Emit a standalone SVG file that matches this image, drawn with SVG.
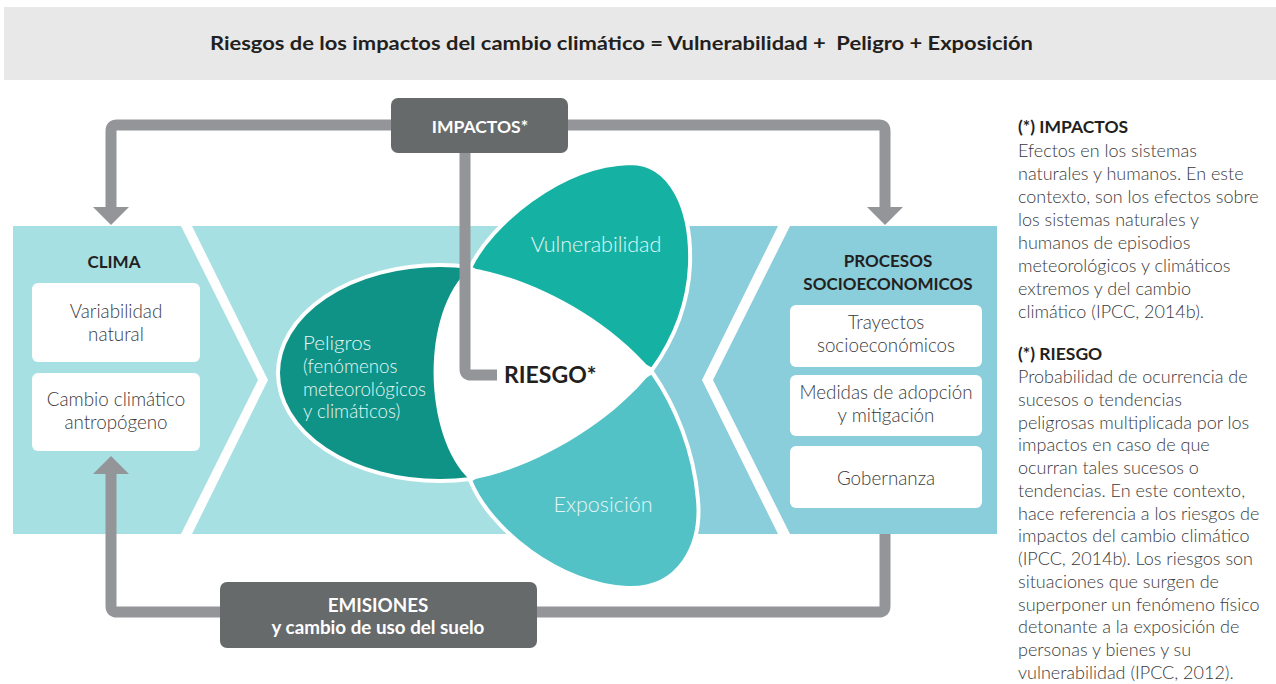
<svg xmlns="http://www.w3.org/2000/svg" width="1276" height="684" viewBox="0 0 1276 684">
<style>
.lt{font-family:Lato,"Liberation Sans",sans-serif;font-weight:300;}
.bd{font-family:Lato,"Liberation Sans",sans-serif;font-weight:700;}
.box{fill:#ffffff;}
.bt{font-size:18.8px;fill:#3a3a3c;text-anchor:middle;}
.hd{font-size:17px;fill:#231f20;text-anchor:middle;}
.pt{font-size:21.5px;fill:#e3f6f5;}
.ps{font-size:18.7px;}
.pl{font-size:20.5px;}
.gb{fill:#666a6b;}
.wt{fill:#ffffff;font-size:17.5px;text-anchor:middle;}
.we{font-size:18.8px;}
.cn{fill:none;stroke:#939598;stroke-width:11;}
.ah{fill:#939598;}
.nt{font-size:18px;fill:#3a3a3c;}
.nh{font-size:17.5px;fill:#231f20;}
.pet{stroke:#ffffff;stroke-width:4;}
</style>
<rect width="1276" height="684" fill="#ffffff"/>
<g id="title">
<rect x="4" y="7" width="1272" height="73" fill="#e8e8e8"/>
<text class="bd" x="210" y="50" font-size="18" fill="#231f20" textLength="823" lengthAdjust="spacingAndGlyphs" xml:space="preserve">Riesgos de los impactos del cambio climático = Vulnerabilidad +  Peligro + Exposición</text>
</g>
<g id="bands">
<polygon points="192,226 640,226 640,534 192,534 268,380" fill="#a7e0e3"/>
<polygon points="640,226 778,226 702,380 778,534 640,534" fill="#8acddb"/>
</g>
<g id="clima">
<polygon points="13,226 181,226 258,380 181,534 13,534" fill="#a7e0e3"/>
<text class="bd hd" x="114" y="268">CLIMA</text>
<rect class="box" x="32" y="283" width="168" height="79" rx="6"/>
<text class="lt bt" x="116" y="318">Variabilidad</text>
<text class="lt bt" x="116" y="341">natural</text>
<rect class="box" x="32" y="373" width="168" height="78" rx="6"/>
<text class="lt bt" x="116" y="406">Cambio climático</text>
<text class="lt bt" x="116" y="429">antropógeno</text>
</g>
<g id="procesos">
<polygon points="790,226 997,226 997,534 790,534 713,380" fill="#8acddb"/>
<text class="bd hd" x="888" y="267">PROCESOS</text>
<text class="bd hd" x="888" y="290">SOCIOECONOMICOS</text>
<rect class="box" x="790" y="305" width="192" height="62" rx="6"/>
<text class="lt bt" x="886" y="329">Trayectos</text>
<text class="lt bt" x="886" y="352">socioeconómicos</text>
<rect class="box" x="790" y="375" width="192" height="61" rx="6"/>
<text class="lt bt" x="886" y="399">Medidas de adopción</text>
<text class="lt bt" x="886" y="422">y mitigación</text>
<rect class="box" x="790" y="446" width="192" height="62" rx="6"/>
<text class="lt bt" x="886" y="485">Gobernanza</text>
</g>
<g id="peligros">
<ellipse class="pet" cx="440" cy="373" rx="162" ry="108" fill="#0f9387"/>
<text class="lt pt pl" x="303" y="350">Peligros</text>
<text class="lt pt ps" x="303" y="373">(fenómenos</text>
<text class="lt pt ps" x="303" y="396">meteorológicos</text>
<text class="lt pt ps" x="303" y="418">y climáticos)</text>
</g>
<g id="vulnerabilidad">
<path class="pet" d="M470,268 C490,225 560,165 630,163 C672,163 692,210 690,265 C688,310 670,345 652,370 Z" fill="#15b2a4"/>
<text class="lt pt" x="596" y="252" text-anchor="middle">Vulnerabilidad</text>
</g>
<g id="exposicion">
<path class="pet" d="M470,480 C490,530 560,585 627,588 C680,590 702,545 698,500 C694,450 675,405 652,372 Z" fill="#52c2c6"/>
<text class="lt pt" x="603" y="512" text-anchor="middle">Exposición</text>
</g>
<g id="riesgo">
<path d="M470,268 C520,275 600,310 652,371 C610,425 530,470 470,480 C425,440 418,315 470,268 Z" fill="#ffffff"/>
<text class="bd" x="504" y="383" font-size="23" fill="#231f20">RIESGO*</text>
</g>
<g id="connectors">
<path class="cn" d="M391,125 H117 Q111,125 111,131 V208"/>
<polygon class="ah" points="93,207 129,207 111,225"/>
<path class="cn" d="M568,125 H879 Q885,125 885,131 V208"/>
<polygon class="ah" points="867,207 903,207 885,225"/>
<path class="cn" d="M465,153 V369 Q465,375 471,375 H497"/>
<path class="cn" d="M220,612 H117 Q111,612 111,606 V472"/>
<polygon class="ah" points="93,474 129,474 111,456"/>
<path class="cn" d="M537,612 H879 Q885,612 885,606 V534"/>
</g>
<g id="impactos">
<rect class="gb" x="391" y="98" width="177" height="55" rx="7"/>
<text class="bd wt" x="480" y="133">IMPACTOS*</text>
</g>
<g id="emisiones">
<rect class="gb" x="220" y="582" width="317" height="66" rx="7"/>
<text class="bd wt we" x="378" y="612">EMISIONES</text>
<text class="bd wt we" x="378" y="634">y cambio de uso del suelo</text>
</g>
<g id="notes">
<text class="bd nh" x="1018" y="133">(*) IMPACTOS</text>
<text class="lt nt" x="1018" y="157">Efectos en los sistemas</text>
<text class="lt nt" x="1018" y="180">naturales y humanos. En este</text>
<text class="lt nt" x="1018" y="203">contexto, son los efectos sobre</text>
<text class="lt nt" x="1018" y="226">los sistemas naturales y</text>
<text class="lt nt" x="1018" y="249">humanos de episodios</text>
<text class="lt nt" x="1018" y="272">meteorológicos y climáticos</text>
<text class="lt nt" x="1018" y="295">extremos y del cambio</text>
<text class="lt nt" x="1018" y="318">climático (IPCC, 2014b).</text>
<text class="bd nh" x="1018" y="360">(*) RIESGO</text>
<text class="lt nt" x="1018" y="383">Probabilidad de ocurrencia de</text>
<text class="lt nt" x="1018" y="406">sucesos o tendencias</text>
<text class="lt nt" x="1018" y="429">peligrosas multiplicada por los</text>
<text class="lt nt" x="1018" y="451">impactos en caso de que</text>
<text class="lt nt" x="1018" y="474">ocurran tales sucesos o</text>
<text class="lt nt" x="1018" y="497">tendencias. En este contexto,</text>
<text class="lt nt" x="1018" y="520">hace referencia a los riesgos de</text>
<text class="lt nt" x="1018" y="542">impactos del cambio climático</text>
<text class="lt nt" x="1018" y="565">(IPCC, 2014b). Los riesgos son</text>
<text class="lt nt" x="1018" y="588">situaciones que surgen de</text>
<text class="lt nt" x="1018" y="611">superponer un fenómeno físico</text>
<text class="lt nt" x="1018" y="633">detonante a la exposición de</text>
<text class="lt nt" x="1018" y="656">personas y bienes y su</text>
<text class="lt nt" x="1018" y="679">vulnerabilidad (IPCC, 2012).</text>
</g>
</svg>
